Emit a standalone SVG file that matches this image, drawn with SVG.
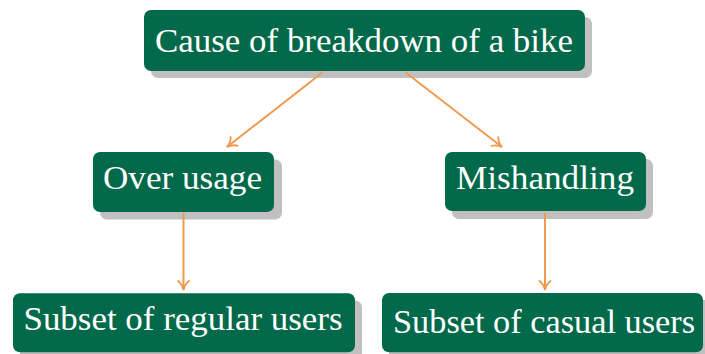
<svg xmlns="http://www.w3.org/2000/svg" width="705" height="354" viewBox="0 0 705 354">
  <style>
    .box { fill: #02694a; }
    .shadow { fill: #c0c0c0; }
    .label { fill: #ffffff; font-family: "Liberation Serif", "DejaVu Serif", serif; font-size: 34px; }
    .edge { stroke: #ef9a4f; stroke-width: 2; fill: none; }
  </style>
  <defs>
    <marker id="arrow" viewBox="0 0 14 14" refX="12" refY="7" markerWidth="14" markerHeight="14" markerUnits="userSpaceOnUse" orient="auto">
      <path d="M3,1.5 Q6.5,6 12,7 Q6.5,8 3,12.5" fill="none" stroke="#ef9a4f" stroke-width="1.9" stroke-linecap="round"/>
    </marker>
  </defs>
  <rect width="705" height="354" fill="#ffffff"/>

  <g id="node-cause">
    <rect class="shadow" x="151" y="17" width="441" height="61" rx="7"/>
    <rect class="box" x="144" y="10" width="441" height="61" rx="7"/>
    <text class="label" x="155" y="52" textLength="418" lengthAdjust="spacingAndGlyphs">Cause of breakdown of a bike</text>
  </g>

  <g id="node-overusage">
    <rect class="shadow" x="100" y="159.5" width="182" height="60" rx="7"/>
    <rect class="box" x="93" y="152" width="181" height="60" rx="7"/>
    <text class="label" x="103" y="189" textLength="159" lengthAdjust="spacingAndGlyphs">Over usage</text>
  </g>

  <g id="node-mishandling">
    <rect class="shadow" x="452" y="159" width="201" height="60" rx="7"/>
    <rect class="box" x="445" y="152" width="201" height="59" rx="7"/>
    <text class="label" x="456" y="189" textLength="178" lengthAdjust="spacingAndGlyphs">Mishandling</text>
  </g>

  <g id="node-regular">
    <rect class="shadow" x="20" y="300.5" width="342" height="60" rx="7"/>
    <rect class="box" x="13" y="293.3" width="342" height="59" rx="7"/>
    <text class="label" x="23.5" y="330" textLength="319" lengthAdjust="spacingAndGlyphs">Subset of regular users</text>
  </g>

  <g id="node-casual">
    <rect class="shadow" x="389" y="300" width="322" height="60" rx="7"/>
    <rect class="box" x="382" y="293" width="321" height="59.3" rx="7"/>
    <text class="label" x="393" y="333" textLength="302" lengthAdjust="spacingAndGlyphs">Subset of casual users</text>
  </g>

  <!-- edges drawn last so they sit on top of the drop shadows -->
  <g id="connectors">
    <line class="edge" x1="323" y1="72" x2="227" y2="147" marker-end="url(#arrow)"/>
    <line class="edge" x1="405" y1="72" x2="502" y2="147" marker-end="url(#arrow)"/>
    <line class="edge" x1="183.5" y1="213" x2="183.5" y2="290" marker-end="url(#arrow)"/>
    <line class="edge" x1="545" y1="213" x2="545" y2="290" marker-end="url(#arrow)"/>
  </g>
</svg>
